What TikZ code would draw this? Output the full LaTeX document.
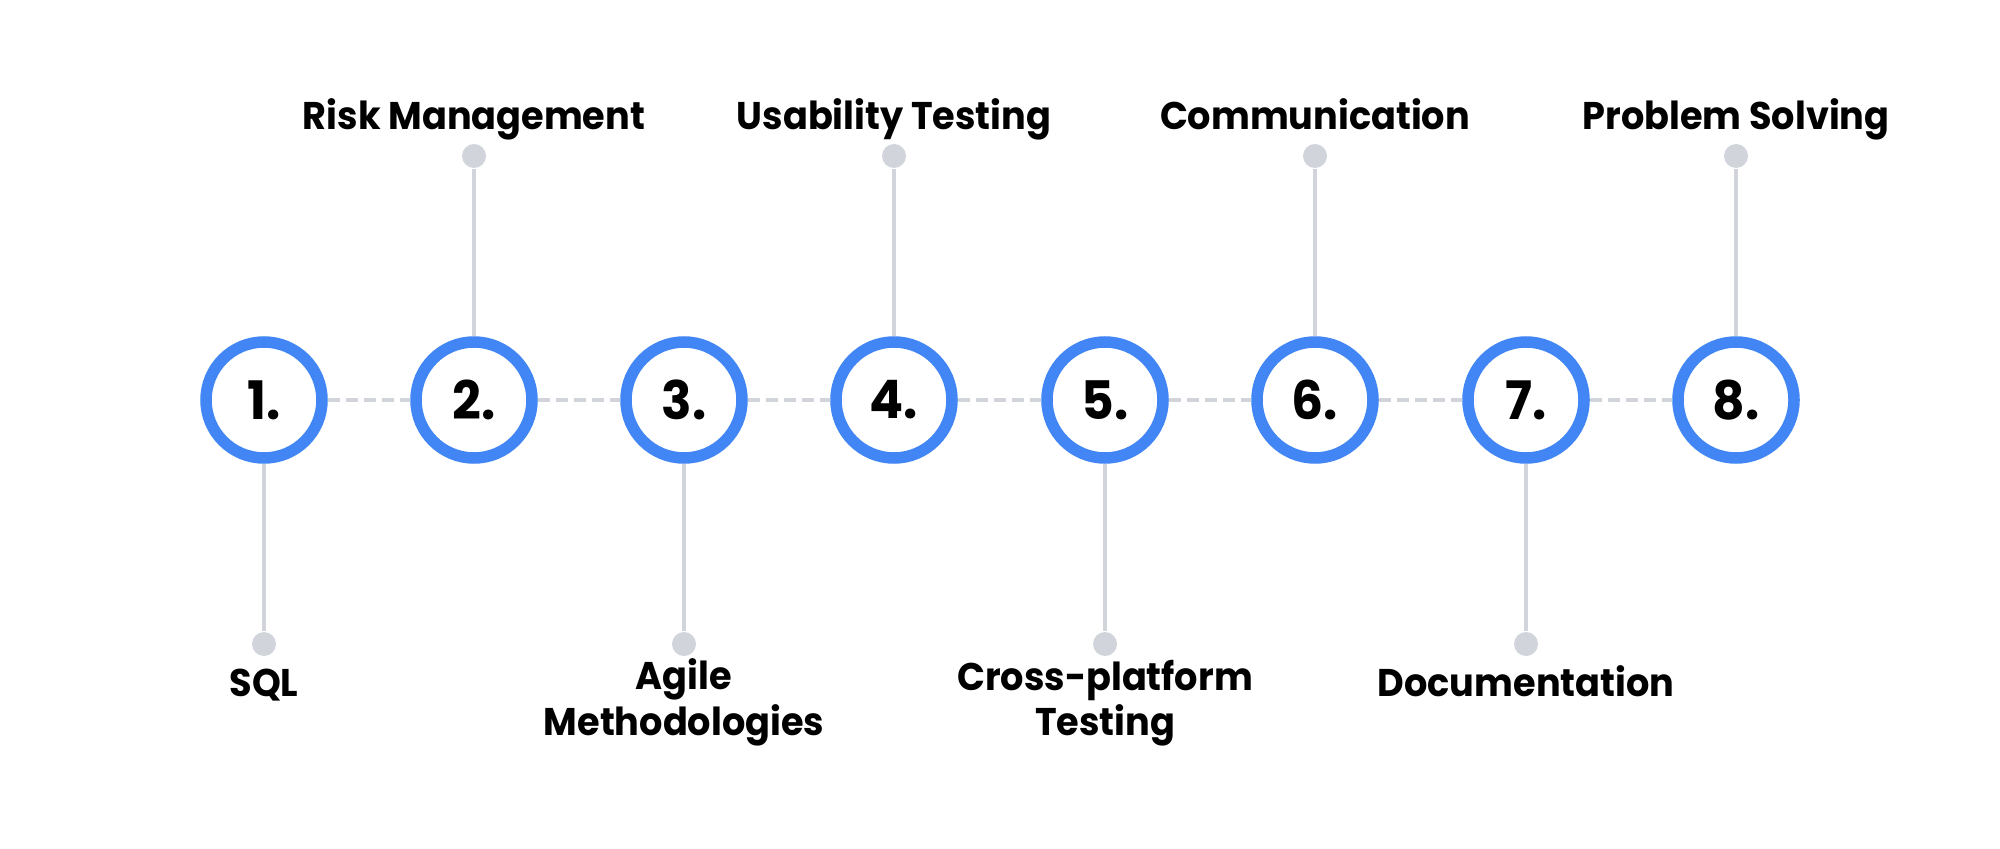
\documentclass[tikz,border=0pt]{standalone}
\usepackage{fontspec}
\setmainfont{Poppins}[FakeStretch=0.95]
\definecolor{ringBlue}{HTML}{4285F4}
\definecolor{stemGrey}{HTML}{D1D5DB}
\tikzset{
    skill/.style={circle, draw=ringBlue, line width=0.115cm, fill=white,
        minimum size=1.16cm, inner sep=0pt, font=\fontsize{15.1}{16}\selectfont\bfseries},
    pin/.style={circle, fill=stemGrey, minimum size=0.24cm, inner sep=0pt},
    stem/.style={draw=stemGrey, line width=0.04cm},
    link/.style={draw=stemGrey, line width=0.04cm, dash pattern=on 0.12cm off 0.06cm},
    skillText/.style={anchor=base, align=center, inner sep=0pt,
        font=\fontsize{10.98}{11.1}\selectfont\bfseries}
}
\begin{document}
\begin{tikzpicture}
        \useasboundingbox[fill=white] (0,0) rectangle (20,8.48);

        \node[skill] (skill1) at (2.64,4.48) {1.};
        \node[skill] (skill2) at (4.74,4.48) {2.};
        \node[skill] (skill3) at (6.84,4.48) {3.};
        \node[skill] (skill4) at (8.94,4.48) {4.};
        \node[skill] (skill5) at (11.05,4.48) {5.};
        \node[skill] (skill6) at (13.15,4.48) {6.};
        \node[skill] (skill7) at (15.26,4.48) {7.};
        \node[skill] (skill8) at (17.36,4.48) {8.};

        \node[pin] (pin1) at (2.64,2.04) {};
        \node[pin] (pin2) at (4.74,6.92) {};
        \node[pin] (pin3) at (6.84,2.04) {};
        \node[pin] (pin4) at (8.94,6.92) {};
        \node[pin] (pin5) at (11.05,2.04) {};
        \node[pin] (pin6) at (13.15,6.92) {};
        \node[pin] (pin7) at (15.26,2.04) {};
        \node[pin] (pin8) at (17.36,6.92) {};

        % two-line labels sit on the baseline of their last line
        \node[skillText] (sql) at (2.64,1.52) {SQL};
        \node[skillText] (risk) at (4.74,7.18) {Risk Management};
        \node[skillText] (agile) at (6.84,1.13) {Agile\\Methodologies};
        \node[skillText] (usability) at (8.94,7.18) {Usability Testing};
        \node[skillText] (crossPlatform) at (11.05,1.13) {Cross-platform\\Testing};
        \node[skillText] (communication) at (13.15,7.18) {Communication};
        \node[skillText] (documentation) at (15.26,1.52) {Documentation};
        \node[skillText] (problem) at (17.36,7.18) {Problem Solving};

        \draw[link] (skill1) -- (skill2);
        \draw[link] (skill2) -- (skill3);
        \draw[link] (skill3) -- (skill4);
        \draw[link] (skill4) -- (skill5);
        \draw[link] (skill5) -- (skill6);
        \draw[link] (skill6) -- (skill7);
        \draw[link] (skill7) -- (skill8);

        \draw[stem] (skill1) -- (pin1);
        \draw[stem] (skill2) -- (pin2);
        \draw[stem] (skill3) -- (pin3);
        \draw[stem] (skill4) -- (pin4);
        \draw[stem] (skill5) -- (pin5);
        \draw[stem] (skill6) -- (pin6);
        \draw[stem] (skill7) -- (pin7);
        \draw[stem] (skill8) -- (pin8);
    \end{tikzpicture}
\end{document}
